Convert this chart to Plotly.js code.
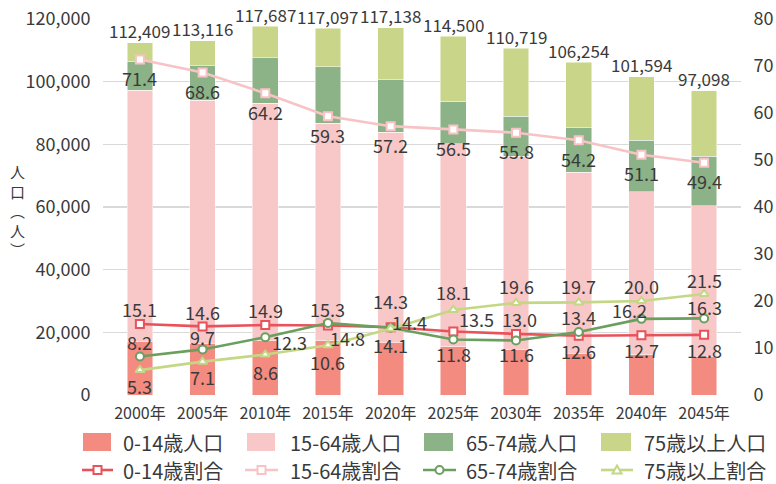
<!DOCTYPE html>
<html>
<head>
<meta charset="utf-8">
<script src="https://cdn.plot.ly/plotly-3.0.1.min.js"></script>
<style>
html,body{margin:0;padding:0;background:#fff;}
#chart{width:776px;height:484px;}
</style>
</head>
<body>
<div id="chart"></div>
<script>
// ---- data ----
const years = ["2000年","2005年","2010年","2015年","2020年","2025年","2030年","2035年","2040年","2045年"];
const totals = [112409,113116,117687,117097,117138,114500,110719,106254,101594,97098];
const pop0_14 = [16974,16515,17535,17330,16868,15458,14393,13388,12902,12429];
const pop15_64 = [80259,77598,75555,69439,67003,64806,61781,57696,51915,47966];
const pop65_74 = [9218,10972,14476,17916,16751,13511,12843,14238,16458,15827];
const pop75 = [5958,8031,10121,12412,16516,20725,21702,20932,20319,20876];
const r0_14 = [15.1,14.6,14.9,14.8,14.4,13.5,13.0,12.6,12.7,12.8];
const r15_64 = [71.4,68.6,64.2,59.3,57.2,56.5,55.8,54.2,51.1,49.4];
const r65_74 = [8.2,9.7,12.3,15.3,14.3,11.8,11.6,13.4,16.2,16.3];
const r75 = [5.3,7.1,8.6,10.6,14.1,18.1,19.6,19.7,20.0,21.5];
const barNames = ['0-14歳人口','15-64歳人口','65-74歳人口','75歳以上人口'];
const lineNames = ['0-14歳割合','15-64歳割合','65-74歳割合','75歳以上割合'];

// ---- label offsets in pixels (style only) ----
const off0_14 = {dx:[0,0,0,20,19,23,3,0,0,0], dy:[15,14,15,-13,5,13,15,-15,-15,-15]};
const off15_64 = {dx:Array(10).fill(0), dy:Array(10).fill(-18.5)};
const off65_74 = {dx:[0,0,24,0,0,0,0,0,-12,0], dy:[14,12,-5,14.5,27,-14,-14,15,8.6,11.5]};
const off75 = {dx:Array(10).fill(0), dy:[-15.5,-15.6,-17.6,-17,-16.6,18,16.7,16,15,14]};

const FONT = '"Noto Sans CJK JP", "Noto Sans", sans-serif';
const TXT = '#3a3a3a';
const BARC = ['#F38B80','#F8C7C8','#8CB287','#C9D588'];
const LINEC = ['#E8525A','#F8C3C5','#6A9F5E','#C4D784'];
const SYM = ['square','square','circle','triangle-up'];

const M = {l:103, r:35, t:19, b:89};
const W = 776, H = 484;
const pw = W - M.l - M.r, ph = H - M.t - M.b;
const px2x = p => (p - M.l) / pw;
const py2y = p => (H - M.b - p) / ph;

function bar(i, y){
  return {type:'bar', name:barNames[i], x:years, y:y, showlegend:false,
          marker:{color:BARC[i], line:{color:'rgba(255,255,255,0.6)', width:0.8}}, hoverinfo:'skip'};
}
function line(i, y){
  return {type:'scatter', mode:'lines+markers', name:lineNames[i], x:years, y:y, yaxis:'y2', showlegend:false,
          line:{color:LINEC[i], width:2.6},
          marker:{symbol:SYM[i], size:8, color:'#ffffff', line:{color:LINEC[i], width:2}},
          cliponaxis:false, hoverinfo:'skip'};
}

const data = [
  bar(0, pop0_14), bar(1, pop15_64), bar(2, pop65_74), bar(3, pop75),
  line(0, r0_14), line(1, r15_64), line(2, r65_74), line(3, r75)
];

const annotations = [];
function labelSeries(vals, off){
  vals.forEach((v,i)=>annotations.push({
    x:years[i], y:v, xref:'x', yref:'y2', text:v.toFixed(1), showarrow:false,
    xanchor:'center', yanchor:'middle', xshift:off.dx[i], yshift:off.dy[i],
    font:{family:FONT, size:18, color:TXT}
  }));
}
labelSeries(r0_14, off0_14);
labelSeries(r15_64, off15_64);
labelSeries(r65_74, off65_74);
labelSeries(r75, off75);
totals.forEach((v,i)=>annotations.push({
  x:years[i], y:v, xref:'x', yref:'y', text:v.toLocaleString('en-US'), showarrow:false,
  xanchor:'center', yanchor:'middle', yshift:12, font:{family:FONT, size:17, color:TXT}
}));

// vertical axis title (upright stacked glyphs)
annotations.push({
  text:'人<br>口<br>︵<br>人<br>︶', xref:'paper', yref:'paper', x:px2x(17), y:py2y(210),
  xanchor:'center', yanchor:'middle', showarrow:false, font:{family:FONT, size:15, color:TXT}
});

// ---- legend (drawn manually to match the reference symbol shapes) ----
const shapes = [];
const legRectX = [[83,111],[247,275],[424,453],[601,631]];
const legLineX = [[82,113],[245,278],[423,456],[601,633]];
const legTextX = [121,288,464,642];
const row1 = 442, row2 = 470;
for(let i=0;i<4;i++){
  shapes.push({type:'rect', xref:'paper', yref:'paper', x0:px2x(legRectX[i][0]), x1:px2x(legRectX[i][1]),
    y0:py2y(row1+9), y1:py2y(row1-9), fillcolor:BARC[i], line:{width:0}});
  annotations.push({text:barNames[i], xref:'paper', yref:'paper', x:px2x(legTextX[i]), y:py2y(row1),
    xanchor:'left', yanchor:'middle', showarrow:false, font:{family:FONT, size:20, color:TXT}});
  const x0 = legLineX[i][0], x1 = legLineX[i][1], cx = (x0+x1)/2;
  shapes.push({type:'line', xref:'paper', yref:'paper', x0:px2x(x0), x1:px2x(x1), y0:py2y(row2), y1:py2y(row2),
    line:{color:LINEC[i], width:2.6}});
  const s = 4;
  if(SYM[i]==='square'){
    shapes.push({type:'rect', xref:'paper', yref:'paper', x0:px2x(cx-s), x1:px2x(cx+s), y0:py2y(row2+s), y1:py2y(row2-s),
      fillcolor:'#ffffff', line:{color:LINEC[i], width:2}});
  } else if(SYM[i]==='circle'){
    shapes.push({type:'circle', xref:'paper', yref:'paper', x0:px2x(cx-s), x1:px2x(cx+s), y0:py2y(row2+s), y1:py2y(row2-s),
      fillcolor:'#ffffff', line:{color:LINEC[i], width:2}});
  } else {
    const p = `M${px2x(cx-s-0.5)},${py2y(row2+s-0.5)} L${px2x(cx+s+0.5)},${py2y(row2+s-0.5)} L${px2x(cx)},${py2y(row2-s-0.5)} Z`;
    shapes.push({type:'path', xref:'paper', yref:'paper', path:p, fillcolor:'#ffffff', line:{color:LINEC[i], width:2}});
  }
  annotations.push({text:lineNames[i], xref:'paper', yref:'paper', x:px2x(legTextX[i]), y:py2y(row2),
    xanchor:'left', yanchor:'middle', showarrow:false, font:{family:FONT, size:20, color:TXT}});
}

const layout = {
  width:W, height:H,
  margin:{l:M.l, r:M.r, t:M.t, b:M.b, autoexpand:false},
  paper_bgcolor:'#ffffff', plot_bgcolor:'#ffffff',
  barmode:'stack', bargap:0.59,
  font:{family:FONT, size:16, color:TXT},
  showlegend:false,
  xaxis:{type:'category', showgrid:false, zeroline:false, showline:false, ticks:'outside', ticklen:4, tickcolor:'rgba(0,0,0,0)',
         tickfont:{family:FONT, size:16, color:TXT}},
  yaxis:{range:[0,120000], dtick:20000, tickformat:',', showgrid:true, gridcolor:'#D9D9D9', gridwidth:1.3,
         zeroline:false, ticks:'outside', ticklen:8, tickcolor:'rgba(0,0,0,0)',
         tickfont:{family:FONT, size:18, color:TXT}},
  yaxis2:{range:[0,80], dtick:10, overlaying:'y', side:'right', showgrid:false, zeroline:false,
          ticks:'outside', ticklen:8, tickcolor:'rgba(0,0,0,0)',
          tickfont:{family:FONT, size:18, color:TXT}},
  annotations: annotations,
  shapes: shapes
};

Plotly.newPlot('chart', data, layout, {staticPlot:true, displayModeBar:false});
</script>
</body>
</html>
